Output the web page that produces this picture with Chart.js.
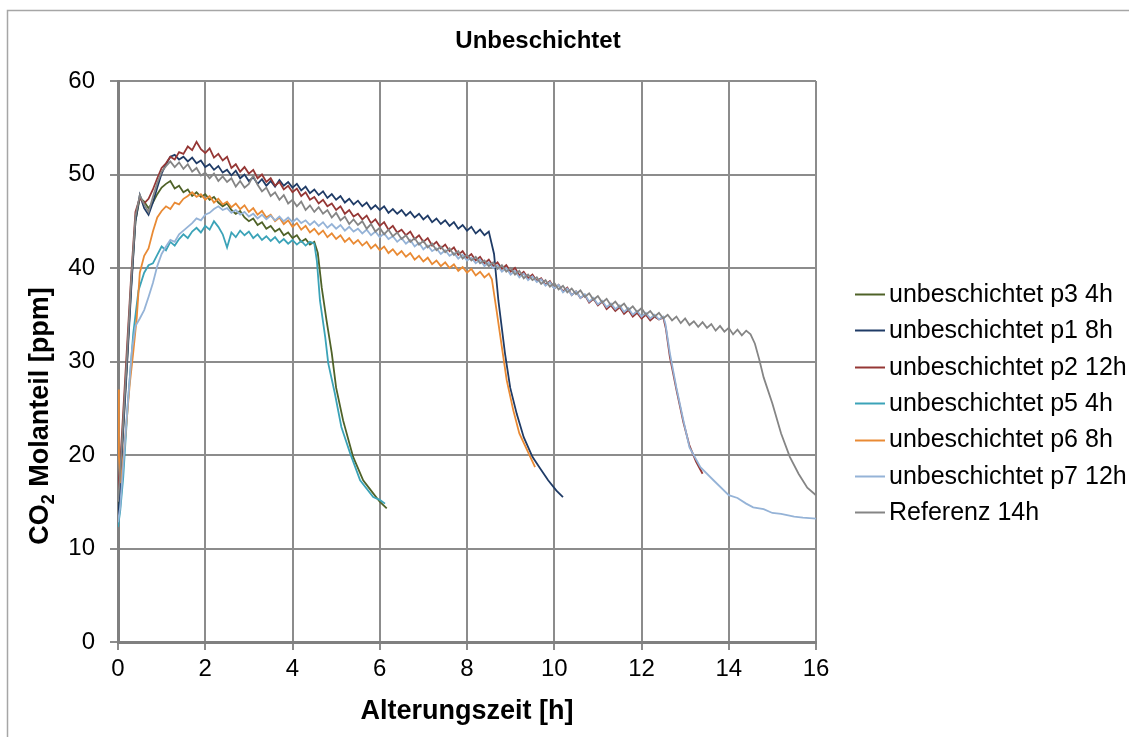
<!DOCTYPE html>
<html>
<head>
<meta charset="utf-8">
<script src="https://cdn.jsdelivr.net/npm/chart.js@4.4.1/dist/chart.umd.min.js"></script>
<style>
  html, body { margin: 0; padding: 0; background: #ffffff; }
  #wrap { width: 1129px; height: 737px; position: relative; }
</style>
</head>
<body>
<div id="wrap"><canvas id="c" width="1129" height="737"></canvas></div>
<script>
// ---------- DATA ----------
const seriesNames = ["unbeschichtet p3 4h", "unbeschichtet p1 8h", "unbeschichtet p2 12h",
  "unbeschichtet p5 4h", "unbeschichtet p6 8h", "unbeschichtet p7 12h", "Referenz 14h"];

const xTicks = [0, 2, 4, 6, 8, 10, 12, 14, 16];
const yTicks = [0, 10, 20, 30, 40, 50, 60];

// shared time grid (h) for the slowly varying middle part
const plateauHours = [
  0.6,0.7,0.8,0.9,1.0,1.1,1.2,1.3,1.4,1.5,
  1.6,1.7,1.8,1.9,2.0,2.1,2.2,2.3,2.4,2.5,
  2.6,2.7,2.8,2.9,3.0,3.1,3.2,3.3,3.4,3.5,
  3.6,3.7,3.8,3.9,4.0,4.1,4.2,4.3,4.4,4.5,
  4.6,4.7,4.8,4.9,5.0,5.1,5.2,5.3,5.4,5.5,
  5.6,5.7,5.8,5.9,6.0,6.1,6.2,6.3,6.4,6.5,
  6.6,6.7,6.8,6.9,7.0,7.1,7.2,7.3,7.4,7.5,
  7.6,7.7,7.8,7.9,8.0,8.1,8.2,8.3,8.4,8.5,
  8.6,8.7,8.8,8.9,9.0,9.1,9.2,9.3,9.4,9.5,
  9.6,9.7,9.8,9.9,10.0,10.1,10.2,10.3,10.4,10.5,
  10.6,10.7,10.8,10.9,11.0,11.1,11.2,11.3,11.4,11.5,
  11.6,11.7,11.8,11.9,12.0,12.1,12.2,12.3,12.4,12.5,
  12.6,12.7,12.8,12.9,13.0,13.1,13.2,13.3,13.4,13.5,
  13.6,13.7,13.8,13.9,14.0,14.1,14.2,14.3,14.4,14.5
];

// p3 4h
const p3RiseX = [0, 0.05, 0.1, 0.2, 0.3, 0.4, 0.5];
const p3RiseY = [14.0, 17.0, 21.5, 29.5, 38.0, 45.0, 47.5];
const p3Plateau = [
  47.1,46.4,47.0,47.9,48.6,49.0,49.3,48.5,48.8,48.1,
  48.4,47.7,48.1,47.6,47.9,47.3,47.6,47.0,46.6,46.9,
  46.2,45.8,46.1,45.4,45.0,45.3,44.6,44.9,44.2,44.5,
  43.9,44.2,43.5,43.8,43.2,43.5,42.8,43.1,42.5,42.8
];
const p3DropX = [4.58, 4.67, 4.78, 4.9, 5.0, 5.16, 5.39, 5.62, 5.85, 6.0, 6.16];
const p3DropY = [41.6, 37.9, 34.4, 30.9, 27.2, 23.7, 19.8, 17.3, 15.9, 15.0, 14.3];

// p1 8h
const p1RiseX = [0, 0.05, 0.1, 0.2, 0.3, 0.4, 0.5];
const p1RiseY = [13.5, 16.0, 21.0, 29.0, 37.5, 45.0, 47.8];
const p1Plateau = [
  46.4,45.7,47.0,48.6,50.1,51.1,51.9,52.1,51.6,51.9,
  51.4,51.8,51.2,51.5,50.8,51.1,50.5,50.9,50.2,50.5,
  49.9,50.4,49.6,50.0,49.3,49.7,49.0,49.5,48.8,49.3,
  48.7,49.4,48.8,49.2,48.6,49.0,48.3,48.7,48.0,48.4,
  47.8,48.2,47.5,47.9,47.3,47.7,47.0,47.4,46.8,47.2,
  46.6,47.0,46.3,46.7,46.2,46.6,45.9,46.3,45.8,46.2,
  45.6,46.0,45.4,45.8,45.2,45.6,44.9,45.3,44.7,45.1,
  44.5,44.9,44.2,44.6,44.0,44.4,43.7,44.1,43.5,43.9
];
const p1DropX = [8.62, 8.72, 8.87, 8.99, 9.14, 9.3, 9.5, 9.67, 9.86, 10.05, 10.2];
const p1DropY = [41.5, 36.5, 30.9, 27.2, 24.4, 21.9, 19.8, 18.6, 17.3, 16.2, 15.5];

// p2 12h
const p2RiseX = [0, 0.05, 0.1, 0.2, 0.3, 0.4, 0.5];
const p2RiseY = [16.0, 19.0, 23.0, 31.0, 39.0, 46.0, 47.5];
const p2Plateau = [
  46.9,47.4,48.4,49.6,50.7,51.2,51.9,51.6,52.4,52.2,
  53.0,52.6,53.5,52.7,52.3,52.8,51.8,52.2,51.5,51.9,
  50.7,51.1,50.3,50.8,50.1,50.5,49.6,50.0,49.2,49.6,
  48.8,49.2,48.4,48.8,48.1,48.5,47.7,48.1,47.3,47.6,
  46.9,47.3,46.6,46.9,46.2,46.6,45.8,46.2,45.5,45.8,
  45.2,45.6,44.8,45.2,44.5,44.9,44.1,44.5,43.8,44.1,
  43.5,43.9,43.1,43.5,42.8,43.2,42.4,42.8,42.1,42.5,
  41.8,42.2,41.4,41.8,41.1,41.5,40.8,41.2,40.5,40.9,
  40.2,40.6,39.9,40.3,39.6,40.0,39.2,39.6,38.9,39.3,
  38.6,38.9,38.2,38.6,37.8,38.2,37.5,37.9,37.1,37.5,
  36.8,37.1,36.3,36.7,36.0,36.4,35.6,36.0,35.4,35.8,
  35.1,35.5,34.8,35.2,34.6,35.0,34.4,34.8,34.5,34.7
];
const p2DropX = [12.56, 12.65, 12.8, 12.96, 13.1, 13.25, 13.4];
const p2DropY = [33.5, 30.5, 27.0, 23.5, 21.0, 19.3, 18.0];

// p5 4h
const p5RiseX = [0, 0.05, 0.12, 0.23, 0.35, 0.47];
const p5RiseY = [12.3, 14.0, 17.6, 25.8, 33.0, 37.6];
const p5Plateau = [
  39.5,40.3,40.5,41.4,42.3,41.9,42.8,42.4,43.1,43.6,
  43.2,43.9,44.3,43.8,44.5,44.1,45.0,44.4,43.6,42.2,
  43.8,43.3,44.0,43.5,43.9,43.2,43.6,43.0,43.4,42.9,
  43.3,42.7,43.1,42.6,43.0,42.5,42.9,42.4,42.8,42.6
];
const p5DropX = [4.56, 4.63, 4.75, 4.82, 4.97, 5.12, 5.32, 5.55, 5.85, 6.0, 6.12];
const p5DropY = [40.7, 36.5, 32.6, 29.8, 26.6, 23.0, 20.2, 17.3, 15.5, 15.2, 14.8];

// p6 8h
const p6RiseX = [0, 0.02, 0.06, 0.15, 0.27, 0.35, 0.43, 0.5];
const p6RiseY = [27.0, 20.0, 17.0, 21.0, 27.6, 31.0, 34.7, 39.5];
const p6Plateau = [
  41.3,42.1,43.9,45.4,46.1,46.6,46.3,47.0,46.8,47.4,
  47.7,48.1,47.6,47.9,47.3,47.7,47.0,47.4,46.8,47.1,
  46.5,46.9,46.3,46.7,46.0,46.4,45.7,46.1,45.4,45.7,
  45.0,45.4,44.7,45.1,44.4,44.8,44.1,44.5,43.8,44.2,
  43.6,44.0,43.3,43.7,43.1,43.5,42.8,43.2,42.6,43.0,
  42.4,42.8,42.1,42.5,41.9,42.3,41.6,42.0,41.4,41.8,
  41.2,41.6,40.9,41.3,40.7,41.1,40.4,40.8,40.2,40.6,
  40.0,40.4,39.7,40.1,39.5,39.9,39.2,39.6,39.0,39.4
];
const p6DropX = [8.57, 8.68, 8.8, 8.91, 9.06, 9.2, 9.4, 9.56];
const p6DropY = [38.8, 35.4, 31.5, 28.0, 24.8, 22.3, 20.3, 18.7];

// p7 12h
const p7RiseX = [0, 0.05, 0.2, 0.32, 0.4, 0.5];
const p7RiseY = [12.8, 14.4, 24.0, 31.2, 33.8, 34.6];
const p7Plateau = [
  35.5,36.9,38.4,40.2,41.5,42.3,43.0,42.8,43.6,44.0,
  44.4,44.8,45.3,45.1,45.7,45.9,46.3,46.6,46.2,46.4,
  45.9,46.2,45.7,46.0,45.5,45.8,45.3,45.7,45.2,45.6,
  45.1,45.5,45.0,45.4,44.9,45.3,44.8,45.1,44.6,45.0,
  44.5,44.9,44.3,44.7,44.2,44.6,44.0,44.4,43.9,44.2,
  43.7,44.1,43.5,43.9,43.3,43.7,43.1,43.4,42.8,43.2,
  42.6,43.0,42.3,42.7,42.0,42.4,41.8,42.1,41.5,41.9,
  41.3,41.6,41.0,41.4,40.8,41.1,40.5,40.9,40.2,40.6,
  40.0,40.3,39.6,40.0,39.3,39.7,39.0,39.4,38.7,39.1,
  38.5,38.8,38.1,38.5,37.8,38.2,37.4,37.8,37.1,37.5,
  36.8,37.2,36.4,36.8,36.1,36.5,35.8,36.2,35.6,36.0,
  35.3,35.7,35.0,35.4,34.8,35.2,34.6,35.0,34.5,34.8
];
const p7DropX = [12.55, 12.65, 12.8, 12.96, 13.1, 13.35, 13.65, 14.0, 14.2, 14.4, 14.56, 14.8, 15.0, 15.2, 15.5, 15.7, 16.0];
const p7DropY = [34.0, 30.9, 27.2, 23.7, 20.8, 18.7, 17.3, 15.7, 15.4, 14.8, 14.4, 14.2, 13.8, 13.7, 13.4, 13.3, 13.2];

// Referenz 14h
const refRiseX = [0, 0.05, 0.1, 0.2, 0.3, 0.4, 0.5];
const refRiseY = [15.0, 18.0, 22.0, 30.0, 38.5, 45.5, 47.8];
const refPlateau = [
  46.8,46.0,47.6,49.1,50.3,50.9,51.4,50.8,51.3,50.6,
  51.1,50.3,50.7,49.9,50.2,49.6,50.1,49.3,49.8,49.2,
  49.6,48.7,49.3,48.6,49.0,49.9,48.9,48.2,48.6,47.7,
  48.1,47.3,47.8,46.9,47.3,46.6,47.1,46.2,46.7,46.0,
  46.5,45.8,46.2,45.4,45.9,45.1,45.5,44.7,45.2,44.6,
  45.0,44.2,44.7,43.9,44.3,43.6,44.1,43.4,43.8,43.1,
  43.5,42.8,43.2,42.5,42.9,42.2,42.6,41.9,42.3,41.7,
  42.1,41.4,41.8,41.0,41.4,40.8,41.2,40.5,40.8,40.2,
  40.6,39.9,40.3,39.6,40.0,39.3,39.7,38.9,39.3,38.7,
  39.0,38.3,38.7,38.0,38.4,37.7,38.1,37.4,37.8,37.2,
  37.6,36.9,37.3,36.6,37.0,36.3,36.7,36.0,36.4,35.8,
  36.2,35.5,35.9,35.3,35.7,35.0,35.4,34.8,35.2,34.6,
  35.0,34.4,34.8,34.1,34.6,33.9,34.3,33.7,34.2,33.6,
  34.0,33.3,33.8,33.2,33.6,32.9,33.4,32.8,33.3,32.9
];
const refDropX = [14.6, 14.7, 14.8, 15.0, 15.2, 15.4, 15.6, 15.8, 16.0];
const refDropY = [31.9, 30.2, 28.3, 25.5, 22.3, 19.8, 18.0, 16.5, 15.7];

const seriesColors = ["#4f6228", "#1f3b66", "#953735", "#3ba3b8", "#e98a34", "#95b3d7", "#858585"];

// ---------- BUILD ----------
function build(rx, ry, plat, dx, dy) {
  const pts = [];
  rx.forEach((x, i) => pts.push({ x: x, y: ry[i] }));
  plat.forEach((v, i) => pts.push({ x: plateauHours[i], y: v }));
  dx.forEach((x, i) => pts.push({ x: x, y: dy[i] }));
  return pts;
}
const seriesData = [
  build(p3RiseX, p3RiseY, p3Plateau, p3DropX, p3DropY),
  build(p1RiseX, p1RiseY, p1Plateau, p1DropX, p1DropY),
  build(p2RiseX, p2RiseY, p2Plateau, p2DropX, p2DropY),
  build(p5RiseX, p5RiseY, p5Plateau, p5DropX, p5DropY),
  build(p6RiseX, p6RiseY, p6Plateau, p6DropX, p6DropY),
  build(p7RiseX, p7RiseY, p7Plateau, p7DropX, p7DropY),
  build(refRiseX, refRiseY, refPlateau, refDropX, refDropY)
];

const FONT = "'Liberation Sans', Arial, sans-serif";

const datasets = seriesNames.map((name, i) => ({
  label: name,
  data: seriesData[i],
  borderColor: seriesColors[i],
  backgroundColor: seriesColors[i],
  borderWidth: 1.8,
  pointRadius: 0,
  tension: 0,
  fill: false,
  order: seriesNames.length - 1 - i
}));

const decor = {
  id: 'decor',
  beforeDraw(chart) {
    const ctx = chart.ctx;
    ctx.save();
    ctx.fillStyle = '#ffffff';
    ctx.fillRect(0, 0, chart.width, chart.height);
    ctx.strokeStyle = '#a6a6a6';
    ctx.lineWidth = 1.5;
    ctx.beginPath();
    ctx.moveTo(7.5, chart.height + 5);
    ctx.lineTo(7.5, 10.5);
    ctx.lineTo(chart.width + 5, 10.5);
    ctx.stroke();
    ctx.restore();
  },
  afterDraw(chart) {
    const ctx = chart.ctx;
    ctx.save();
    // title
    ctx.fillStyle = '#000';
    ctx.font = "bold 24px " + FONT;
    ctx.textAlign = 'center';
    ctx.textBaseline = 'middle';
    ctx.fillText('Unbeschichtet', 538, 41);

    // y axis title with subscript
    ctx.translate(38, 416);
    ctx.rotate(-Math.PI / 2);
    const big = "bold 27px " + FONT, small = "bold 18px " + FONT;
    ctx.font = big; const w1 = ctx.measureText('CO').width;
    ctx.font = small; const w2 = ctx.measureText('2').width;
    ctx.font = big; const w3 = ctx.measureText(' Molanteil [ppm]').width;
    let x0 = -(w1 + w2 + w3) / 2;
    ctx.textAlign = 'left';
    ctx.textBaseline = 'alphabetic';
    ctx.font = big; ctx.fillText('CO', x0, 10);
    ctx.font = small; ctx.fillText('2', x0 + w1, 16);
    ctx.font = big; ctx.fillText(' Molanteil [ppm]', x0 + w1 + w2, 10);
    ctx.restore();

    // legend
    ctx.save();
    ctx.font = "25px " + FONT;
    ctx.textBaseline = 'middle';
    ctx.textAlign = 'left';
    const y0 = 294, dy = 36.4;
    seriesNames.forEach((name, i) => {
      const y = y0 + i * dy;
      ctx.strokeStyle = seriesColors[i];
      ctx.lineWidth = 2;
      ctx.beginPath();
      ctx.moveTo(855, Math.round(y) + 0.5);
      ctx.lineTo(885, Math.round(y) + 0.5);
      ctx.stroke();
      ctx.fillStyle = '#000';
      ctx.fillText(name, 889, y + 1);
    });
    ctx.restore();
  }
};

new Chart(document.getElementById('c'), {
  type: 'line',
  data: { datasets: datasets },
  options: {
    responsive: false,
    animation: false,
    layout: { padding: { left: 0, top: 81, right: 313, bottom: 0 } },
    plugins: { legend: { display: false }, title: { display: false }, tooltip: { enabled: false } },
    scales: {
      x: {
        type: 'linear', min: 0, max: 16,
        afterBuildTicks(scale) { scale.ticks = xTicks.map(v => ({ value: v })); },
        afterFit(scale) { scale.height = 95; },
        ticks: { color: '#000', font: { family: FONT, size: 24 }, padding: 5, maxRotation: 0 },
        grid: { color: '#8c8c8c', lineWidth: 2, tickLength: 8, drawTicks: true },
        border: { color: '#808080', width: 3 },
        title: { display: true, text: 'Alterungszeit [h]', color: '#000',
                 font: { family: FONT, size: 27, weight: 'bold' }, padding: { top: 0, bottom: 9 } }
      },
      y: {
        type: 'linear', min: 0, max: 60,
        afterBuildTicks(scale) { scale.ticks = yTicks.map(v => ({ value: v })); },
        afterFit(scale) { scale.width = 118; },
        ticks: { color: '#000', font: { family: FONT, size: 24 }, padding: 15 },
        grid: { color: '#8c8c8c', lineWidth: 2, tickLength: 8, drawTicks: true },
        border: { color: '#808080', width: 3 }
      }
    }
  },
  plugins: [decor]
});
</script>
</body>
</html>
